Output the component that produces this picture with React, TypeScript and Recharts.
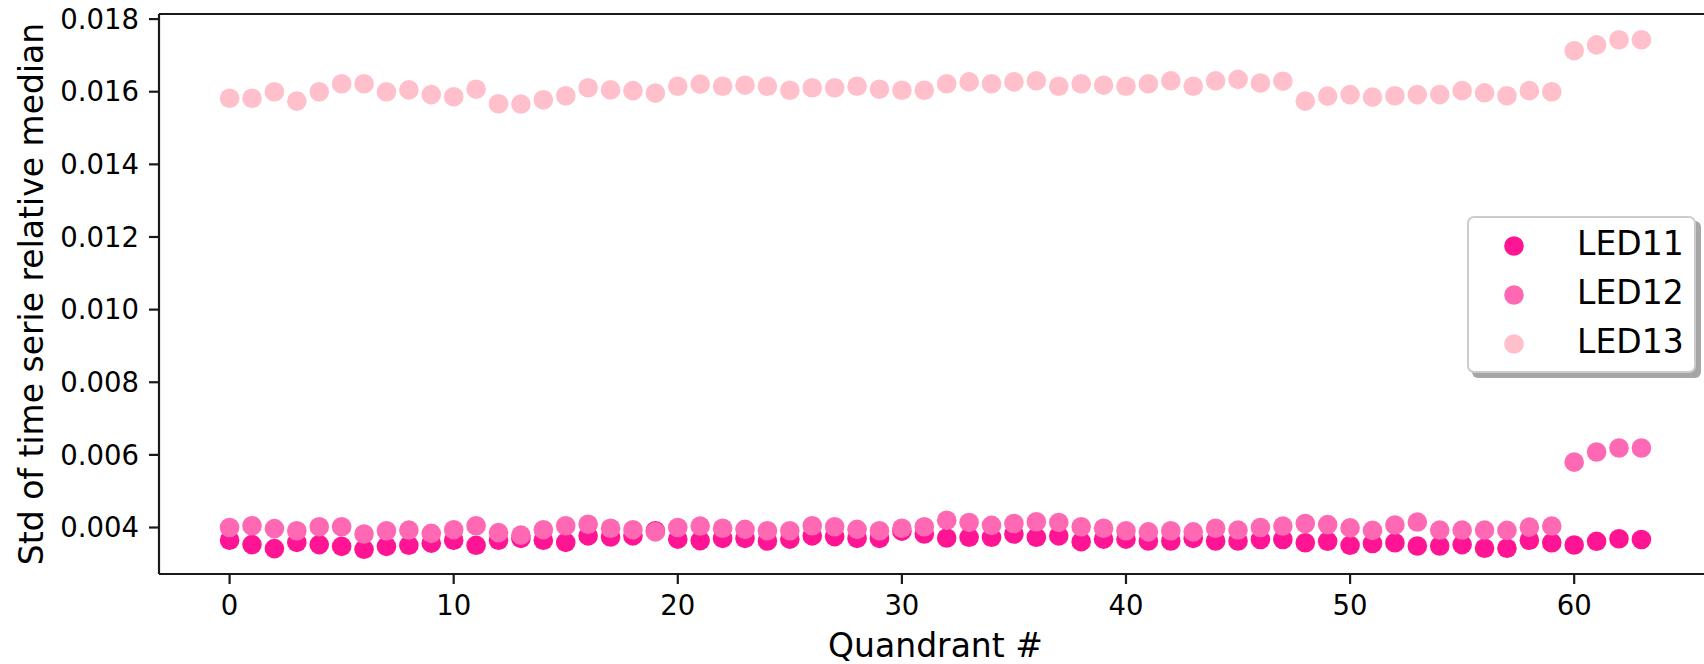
import React from "react";
import {
  ScatterChart,
  Scatter,
  XAxis,
  YAxis,
  Legend,
  ReferenceLine,
} from "recharts";

const FONT = "'DejaVu Sans', Verdana, sans-serif";

// quadrant index (x)
const QUADRANTS = [
  0, 1, 2, 3, 4, 5, 6, 7, 8, 9, 10, 11, 12, 13, 14, 15, 16, 17, 18, 19, 20, 21,
  22, 23, 24, 25, 26, 27, 28, 29, 30, 31, 32, 33, 34, 35, 36, 37, 38, 39, 40, 41,
  42, 43, 44, 45, 46, 47, 48, 49, 50, 51, 52, 53, 54, 55, 56, 57, 58, 59, 60, 61,
  62, 63,
];

// std of time serie relative median
const LED11 = [
  0.00365, 0.00353, 0.00342, 0.00359, 0.00353, 0.00348, 0.0034, 0.00348, 0.00351, 0.00357,
  0.00365, 0.00351, 0.00365, 0.0037, 0.00365, 0.00359, 0.00377, 0.00374, 0.00377, 0.00391,
  0.00368, 0.00364, 0.0037, 0.0037, 0.00363, 0.00368, 0.00377, 0.00375, 0.0037, 0.0037,
  0.0039, 0.00382, 0.00371, 0.00373, 0.00373, 0.00382, 0.00373, 0.00377, 0.00361, 0.00368,
  0.00368, 0.00363, 0.00363, 0.0037, 0.00363, 0.00363, 0.00367, 0.00367, 0.00358, 0.00362,
  0.00351, 0.00356, 0.00358, 0.00349, 0.00349, 0.00353, 0.00343, 0.00343, 0.00365, 0.00358,
  0.00352, 0.00362, 0.00369, 0.00367,
];

const LED12 = [
  0.004, 0.00405, 0.00397, 0.00391, 0.00402, 0.00402, 0.00382, 0.00391, 0.00393, 0.00384,
  0.00394, 0.00405, 0.00386, 0.00379, 0.00394, 0.00405, 0.00409, 0.00398, 0.00394, 0.00388,
  0.004, 0.00404, 0.00398, 0.00395, 0.00391, 0.00391, 0.00405, 0.00402, 0.00395, 0.00391,
  0.00398, 0.00402, 0.0042, 0.00414, 0.00406, 0.00411, 0.00416, 0.00414, 0.00402, 0.00398,
  0.00391, 0.00388, 0.00391, 0.00388, 0.00398, 0.00393, 0.004, 0.00404, 0.00411, 0.00408,
  0.00399, 0.00392, 0.00407, 0.00415, 0.00393, 0.00393, 0.00393, 0.00392, 0.00401, 0.00404,
  0.0058, 0.00608, 0.00619, 0.00619,
];

const LED13 = [
  0.01582, 0.01582, 0.016, 0.01574, 0.016, 0.01622, 0.01622, 0.016, 0.01605, 0.01592,
  0.01586, 0.01607, 0.01567, 0.01566, 0.01578, 0.01589, 0.01611, 0.01605, 0.01603, 0.01596,
  0.01615, 0.01621, 0.01615, 0.01618, 0.01615, 0.01604, 0.01611, 0.01611, 0.01615, 0.01607,
  0.01604, 0.01604, 0.01622, 0.01627, 0.01622, 0.01627, 0.0163, 0.01615, 0.01622, 0.01618,
  0.01615, 0.01622, 0.0163, 0.01615, 0.0163, 0.01634, 0.01624, 0.01629, 0.01574, 0.01588,
  0.01592, 0.01585, 0.01589, 0.01592, 0.01592, 0.01603, 0.01597, 0.01589, 0.01603, 0.016,
  0.01713, 0.01729, 0.01743, 0.01743,
];

const X_TICKS = [0, 10, 20, 30, 40, 50, 60];
const Y_TICKS = [0.004, 0.006, 0.008, 0.01, 0.012, 0.014, 0.016, 0.018];
const X_DOMAIN = [-3.15, 66.15];
const Y_DOMAIN = [0.00272, 0.01814];

const SERIES = [
  { name: "LED11", color: "#FF1493", values: LED11 },
  { name: "LED12", color: "#FF69B4", values: LED12 },
  { name: "LED13", color: "#FFC0CB", values: LED13 },
];

const AXIS = "#1a1a1a";
const R = 9.8;

const dot = (color: string) => (props: any) =>
  props.cx == null ? <g /> : <circle cx={props.cx} cy={props.cy} r={R} fill={color} />;

// matplotlib-style legend box with drop shadow
const LegendBox = () => {
  const w = 229;
  const h = 157;
  return (
    <svg width={w + 8} height={h + 8} style={{ overflow: "visible" }}>
      <rect x={5} y={5} width={w} height={h} rx={6} fill="#4d4d4d" fillOpacity={0.5} />
      <rect x={1} y={1} width={w - 2} height={h - 2} rx={6} fill="#fff" stroke="#cccccc" strokeWidth={2} />
      {SERIES.map((s, i) => (
        <g key={s.name}>
          <circle cx={47} cy={30 + i * 49} r={R} fill={s.color} />
          <text x={110} y={39 + i * 49} fontSize={33} fontFamily={FONT} fill="#000">
            {s.name}
          </text>
        </g>
      ))}
    </svg>
  );
};

const YLabel = (props: any) => {
  const vb = props.viewBox || { x: 0, y: 14, width: 159, height: 560 };
  const cx = vb.x + 42.5;
  const cy = vb.y + vb.height / 2;
  return (
    <text
      x={cx}
      y={cy}
      transform={`rotate(-90 ${cx} ${cy})`}
      textAnchor="middle"
      fontSize={33}
      fontFamily={FONT}
      fill="#000"
    >
      Std of time serie relative median
    </text>
  );
};

export default function App() {
  const tick = { fontSize: 27.5, fontFamily: FONT, fill: "#000" };
  return (
    <div
      style={{
        position: "fixed",
        left: 0,
        top: 0,
        width: 1704,
        height: 664,
        overflow: "hidden",
        background: "#fff",
      }}
    >
      <ScatterChart width={1730} height={664} margin={{ top: 14, right: 18, left: 0, bottom: 0 }}>
        <XAxis
          type="number"
          dataKey="x"
          domain={X_DOMAIN}
          ticks={X_TICKS}
          allowDataOverflow
          height={90}
          tick={tick}
          tickSize={10}
          tickMargin={11}
          tickLine={{ stroke: AXIS, strokeWidth: 2.2 }}
          axisLine={{ stroke: AXIS, strokeWidth: 2.2 }}
          label={{
            value: "Quandrant #",
            position: "insideBottom",
            offset: 7,
            fontSize: 33,
            fontFamily: FONT,
            fill: "#000",
          }}
        />
        <YAxis
          type="number"
          dataKey="y"
          domain={Y_DOMAIN}
          ticks={Y_TICKS}
          allowDataOverflow
          width={159}
          tick={tick}
          tickSize={10}
          tickMargin={10}
          tickFormatter={(v: number) => v.toFixed(3)}
          tickLine={{ stroke: AXIS, strokeWidth: 2.2 }}
          axisLine={{ stroke: AXIS, strokeWidth: 2.2 }}
          label={<YLabel />}
        />
        <ReferenceLine y={Y_DOMAIN[1]} stroke={AXIS} strokeWidth={2.2} />
        <ReferenceLine x={X_DOMAIN[1]} stroke={AXIS} strokeWidth={2.2} />
        {SERIES.map((s) => (
          <Scatter
            key={s.name}
            name={s.name}
            data={QUADRANTS.map((q, i) => ({ x: q, y: s.values[i] }))}
            fill={s.color}
            shape={dot(s.color)}
            isAnimationActive={false}
          />
        ))}
        <Legend
          layout="horizontal"
          verticalAlign="middle"
          align="center"
          wrapperStyle={{ position: "absolute", left: 1467, top: 216, width: 240, height: 165 }}
          content={() => <LegendBox />}
        />
      </ScatterChart>
    </div>
  );
}
